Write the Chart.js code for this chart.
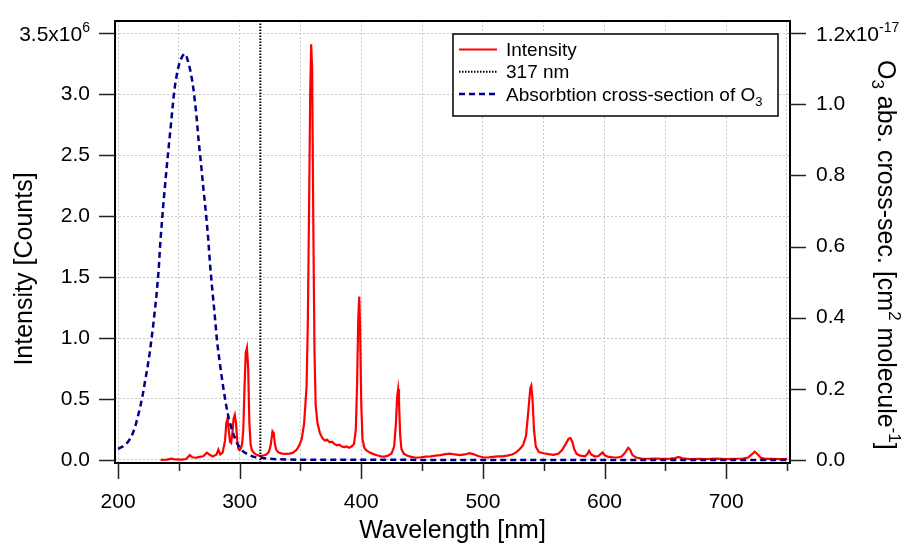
<!DOCTYPE html>
<html>
<head>
<meta charset="utf-8">
<script src="https://cdn.jsdelivr.net/npm/chart.js@4.4.1/dist/chart.umd.min.js"></script>
<style>
  html, body { margin: 0; padding: 0; background: #fff; }
</style>
</head>
<body>
<canvas id="chart" width="910" height="544"></canvas>
<script>
// Lamp spectrum: [wavelength nm, intensity x10^6 counts]
const intensitySpectrum = [
  [235, 0.000], [240, 0.003], [244, 0.010], [247, 0.004], [252, 0.003], [256, 0.008], [259, 0.040], [261, 0.022],
  [264, 0.018], [267, 0.025], [270, 0.030], [273, 0.060], [275, 0.045], [278, 0.028], [281, 0.045], [282.5, 0.085],
  [284, 0.045], [286, 0.060], [288, 0.160], [289, 0.300], [290, 0.340], [291, 0.250], [292, 0.150], [293, 0.140],
  [294, 0.220], [295, 0.340], [296, 0.370], [297, 0.300], [298, 0.160], [299, 0.090], [300, 0.080], [301, 0.095],
  [302, 0.130], [303, 0.250], [304, 0.600], [305, 0.880], [306, 0.920], [307, 0.750], [308, 0.300], [309, 0.130],
  [310, 0.080], [312, 0.055], [314, 0.042], [316, 0.036], [318, 0.033], [320, 0.038], [322, 0.045], [324, 0.065],
  [325.5, 0.120], [327, 0.235], [328, 0.220], [329, 0.130], [330, 0.085], [332, 0.060], [335, 0.052], [338, 0.050],
  [341, 0.052], [344, 0.060], [347, 0.085], [349, 0.120], [351, 0.170], [353, 0.300], [355, 0.600], [356, 1.100],
  [357, 2.000], [358, 3.000], [358.8, 3.410], [359.6, 3.200], [360.5, 2.000], [361.5, 0.900], [362.5, 0.450], [364, 0.300],
  [366, 0.220], [368, 0.180], [370, 0.160], [372, 0.165], [374, 0.145], [376, 0.150], [378, 0.130], [380, 0.120],
  [382, 0.125], [384, 0.110], [386, 0.105], [388, 0.110], [390, 0.100], [392, 0.110], [394, 0.130], [395.5, 0.250],
  [396.5, 0.600], [397.5, 1.150], [398.3, 1.340], [399, 1.100], [400, 0.450], [401, 0.170], [402.5, 0.100], [404, 0.080],
  [407, 0.060], [410, 0.048], [413, 0.038], [416, 0.030], [419, 0.028], [422, 0.035], [425, 0.055], [427, 0.110],
  [428.5, 0.300], [429.5, 0.520], [430.3, 0.580], [431, 0.480], [432, 0.200], [433, 0.090], [435, 0.050], [438, 0.035],
  [441, 0.025], [445, 0.018], [449, 0.022], [453, 0.028], [457, 0.030], [461, 0.035], [465, 0.040], [469, 0.048],
  [473, 0.052], [477, 0.045], [481, 0.040], [485, 0.045], [489, 0.055], [492, 0.048], [496, 0.032], [500, 0.022],
  [504, 0.020], [508, 0.025], [512, 0.030], [516, 0.030], [520, 0.035], [524, 0.045], [527, 0.060], [530, 0.085],
  [533, 0.120], [535.5, 0.200], [537.5, 0.420], [539, 0.590], [539.8, 0.610], [540.8, 0.500], [542, 0.250], [543.5, 0.110],
  [546, 0.065], [550, 0.055], [554, 0.048], [558, 0.042], [562, 0.050], [565, 0.080], [568, 0.130], [570.5, 0.175],
  [572, 0.180], [573.5, 0.150], [575, 0.090], [577, 0.050], [580, 0.035], [584, 0.030], [586, 0.050], [587.3, 0.075],
  [589, 0.045], [592, 0.028], [595, 0.032], [597, 0.050], [598.5, 0.062], [600, 0.040], [603, 0.025], [607, 0.022],
  [611, 0.020], [614, 0.028], [617, 0.060], [619.5, 0.100], [621, 0.085], [623, 0.040], [626, 0.020], [630, 0.012],
  [636, 0.010], [642, 0.012], [648, 0.009], [654, 0.011], [658, 0.015], [661, 0.024], [664, 0.013], [670, 0.008],
  [677, 0.010], [684, 0.008], [692, 0.011], [700, 0.007], [708, 0.010], [714, 0.012], [718, 0.020], [721, 0.045],
  [723.5, 0.068], [726, 0.045], [728.5, 0.018], [732, 0.009], [738, 0.010], [744, 0.007], [750, 0.008]
];

// O3 absorption cross-section: [wavelength nm, x10^-17 cm2 molecule-1]
const o3CrossSection = [
  [200, 0.031], [204, 0.038], [208, 0.050], [211, 0.065], [214, 0.092], [216, 0.118], [218.3, 0.150], [220.5, 0.187],
  [222.4, 0.225], [224.3, 0.262], [226, 0.300], [227.5, 0.340], [228.8, 0.375], [230.2, 0.418], [231.5, 0.459], [233.4, 0.534],
  [234.8, 0.614], [236.2, 0.675], [237.5, 0.730], [239, 0.785], [240.3, 0.834], [241.7, 0.882], [243, 0.927], [244.4, 0.975],
  [245.7, 1.021], [247, 1.057], [248.5, 1.087], [250, 1.110], [251.2, 1.124], [253, 1.136], [254.5, 1.142], [255.3, 1.141],
  [256.8, 1.130], [258, 1.115], [259.4, 1.096], [260.8, 1.070], [262.1, 1.040], [264.3, 0.975], [266.2, 0.900], [268.2, 0.834],
  [270.3, 0.759], [272.3, 0.694], [274, 0.628], [275.8, 0.543], [277.2, 0.490], [278.6, 0.440], [280, 0.388], [281.3, 0.337],
  [282.7, 0.298], [284.1, 0.262], [285.5, 0.228], [286.8, 0.197], [288.2, 0.168], [289.6, 0.140], [291.2, 0.115], [292.9, 0.094],
  [295.3, 0.068], [297.8, 0.047], [300.5, 0.033], [303.2, 0.023], [307, 0.015], [311.4, 0.009], [317, 0.006], [322, 0.004],
  [330, 0.002], [340, 0.001], [360, 0.0005], [400, 0.0003], [500, 0.0001], [600, 0.00005], [750, 0.00003]
];

const markerNm = 317;

const xTicks = [200, 250, 300, 350, 400, 450, 500, 550, 600, 650, 700, 750];
const leftTicks = [0, 0.5, 1.0, 1.5, 2.0, 2.5, 3.0, 3.5];
const rightTicks = [0, 0.2, 0.4, 0.6, 0.8, 1.0, 1.2];

const FONT = '"Liberation Sans", Arial, sans-serif';
const yLeftMin = -0.025, yLeftMax = 3.6;
const ratio = 1.2 / 3.5; // right axis tied to left axis

// texte avec indices / exposants
function richText(ctx, parts, x, y, align) {
  let total = 0;
  parts.forEach(p => { ctx.font = p[1] + 'px ' + FONT; total += ctx.measureText(p[0]).width; });
  let cx = align === 'right' ? x - total : (align === 'center' ? x - total / 2 : x);
  ctx.textAlign = 'left';
  ctx.textBaseline = 'alphabetic';
  parts.forEach(p => {
    ctx.font = p[1] + 'px ' + FONT;
    ctx.fillText(p[0], cx, y + (p[2] || 0));
    cx += ctx.measureText(p[0]).width;
  });
}

// pas de marge automatique autour des axes
function fixSize(prop, size) {
  return s => {
    s[prop] = size;
    s.paddingTop = 0; s.paddingBottom = 0; s.paddingLeft = 0; s.paddingRight = 0;
  };
}

const extras = {
  id: 'extras',
  afterDatasetsDraw(chart) {
    const { ctx, chartArea: a, scales } = chart;
    ctx.save();

    // cadre
    ctx.strokeStyle = '#000';
    ctx.lineWidth = 2;
    ctx.strokeRect(a.left, a.top, a.right - a.left, a.bottom - a.top);

    // graduations
    ctx.strokeStyle = '#222';
    ctx.lineWidth = 1.5;
    ctx.beginPath();
    xTicks.forEach(v => {
      const px = Math.round(scales.x.getPixelForValue(v)) + 0.5;
      const len = v % 100 === 0 ? 16 : 8;
      ctx.moveTo(px, a.bottom); ctx.lineTo(px, a.bottom + len);
    });
    leftTicks.forEach(v => {
      const py = Math.round(scales.y.getPixelForValue(v)) + 0.5;
      ctx.moveTo(a.left, py); ctx.lineTo(a.left - 16, py);
    });
    rightTicks.forEach(v => {
      const py = Math.round(scales.y2.getPixelForValue(v)) + 0.5;
      ctx.moveTo(a.right, py); ctx.lineTo(a.right + 16, py);
    });
    ctx.stroke();

    ctx.fillStyle = '#000';
    // étiquettes du haut avec exposant
    const yTop = scales.y.getPixelForValue(3.5);
    richText(ctx, [['3.5x10', 21], ['6', 14, -9]], a.left - 25, yTop + 7.5, 'right');
    const yTop2 = scales.y2.getPixelForValue(1.2);
    richText(ctx, [['1.2x10', 21], ['-17', 14, -9]], a.right + 26, yTop2 + 7.5, 'left');

    // titres des axes
    richText(ctx, [['Wavelength [nm]', 25]], (a.left + a.right) / 2, 538, 'center');

    ctx.save();
    ctx.translate(32, 269);
    ctx.rotate(-Math.PI / 2);
    richText(ctx, [['Intensity [Counts]', 25]], 0, 0, 'center');
    ctx.restore();

    ctx.save();
    ctx.translate(878, 60);
    ctx.rotate(Math.PI / 2);
    richText(ctx, [['O', 25], ['3', 17, 6], [' abs. cross-sec. [cm', 25], ['2', 17, -11],
      [' molecule', 25], ['-1', 17, -11], [']', 25]], 0, 0, 'left');
    ctx.restore();

    // légende
    const lx = a.right - 337, ly = a.top + 13, lw = 325, lh = 82;
    ctx.fillStyle = '#fff';
    ctx.fillRect(lx, ly, lw, lh);
    ctx.strokeStyle = '#000';
    ctx.lineWidth = 1.5;
    ctx.strokeRect(lx, ly, lw, lh);
    const rows = [
      [['Intensity', 19]],
      [['317 nm', 19]],
      [['Absorbtion cross-section of O', 19], ['3', 13, 5]]
    ];
    const dsOrder = [2, 0, 1];
    rows.forEach((parts, i) => {
      const ds = chart.data.datasets[dsOrder[i]];
      const base = ly + 22 + i * 22.3;
      ctx.save();
      ctx.strokeStyle = ds.borderColor;
      ctx.lineWidth = ds.borderWidth;
      ctx.setLineDash(ds.borderDash || []);
      ctx.beginPath();
      ctx.moveTo(lx + 6, base - 6.5);
      ctx.lineTo(lx + 44, base - 6.5);
      ctx.stroke();
      ctx.restore();
      ctx.fillStyle = '#000';
      richText(ctx, parts, lx + 53, base, 'left');
    });

    ctx.restore();
  }
};

const gridStyle = { color: '#c8c8c8', lineWidth: 1, drawTicks: false };
const tickFont = { family: FONT, size: 21 };

new Chart(document.getElementById('chart'), {
  type: 'line',
  data: {
    datasets: [
      {
        label: '317 nm',
        data: [{ x: markerNm, y: yLeftMin }, { x: markerNm, y: yLeftMax }],
        borderColor: '#000',
        borderWidth: 2,
        borderDash: [1.5, 1.5],
        pointRadius: 0,
        yAxisID: 'y'
      },
      {
        label: 'Absorbtion cross-section of O3',
        data: o3CrossSection.map(p => ({ x: p[0], y: p[1] })),
        borderColor: '#00008c',
        borderWidth: 2.5,
        borderDash: [6, 4],
        pointRadius: 0,
        yAxisID: 'y2'
      },
      {
        label: 'Intensity',
        data: intensitySpectrum.map(p => ({ x: p[0], y: p[1] })),
        borderColor: '#ff0000',
        borderWidth: 2.2,
        pointRadius: 0,
        yAxisID: 'y'
      }
    ]
  },
  options: {
    responsive: false,
    animation: false,
    layout: { padding: { top: 21, left: 0, right: 0, bottom: 0 } },
    plugins: { legend: { display: false }, tooltip: { enabled: false } },
    scales: {
      x: {
        type: 'linear',
        min: 197.5,
        max: 752.5,
        afterFit: fixSize('height', 81),
        afterBuildTicks: s => { s.ticks = xTicks.map(v => ({ value: v })); },
        ticks: {
          callback: v => (v % 100 === 0 ? String(v) : ''),
          font: tickFont, color: '#000', padding: 27,
          autoSkip: false, maxRotation: 0
        },
        grid: gridStyle,
        border: { display: false, dash: [2, 2] }
      },
      y: {
        position: 'left',
        min: yLeftMin,
        max: yLeftMax,
        afterFit: fixSize('width', 115),
        afterBuildTicks: s => { s.ticks = leftTicks.map(v => ({ value: v })); },
        ticks: {
          callback: v => (v === 3.5 ? '' : v.toFixed(1)),
          font: tickFont, color: '#000', padding: 25
        },
        grid: gridStyle,
        border: { display: false, dash: [2, 2] }
      },
      y2: {
        position: 'right',
        min: yLeftMin * ratio,
        max: yLeftMax * ratio,
        afterFit: fixSize('width', 120),
        afterBuildTicks: s => { s.ticks = rightTicks.map(v => ({ value: v })); },
        ticks: {
          callback: v => (v === 1.2 ? '' : v.toFixed(1)),
          font: tickFont, color: '#000', padding: 26
        },
        grid: { display: false, drawTicks: false },
        border: { display: false }
      }
    }
  },
  plugins: [extras]
});
</script>
</body>
</html>
